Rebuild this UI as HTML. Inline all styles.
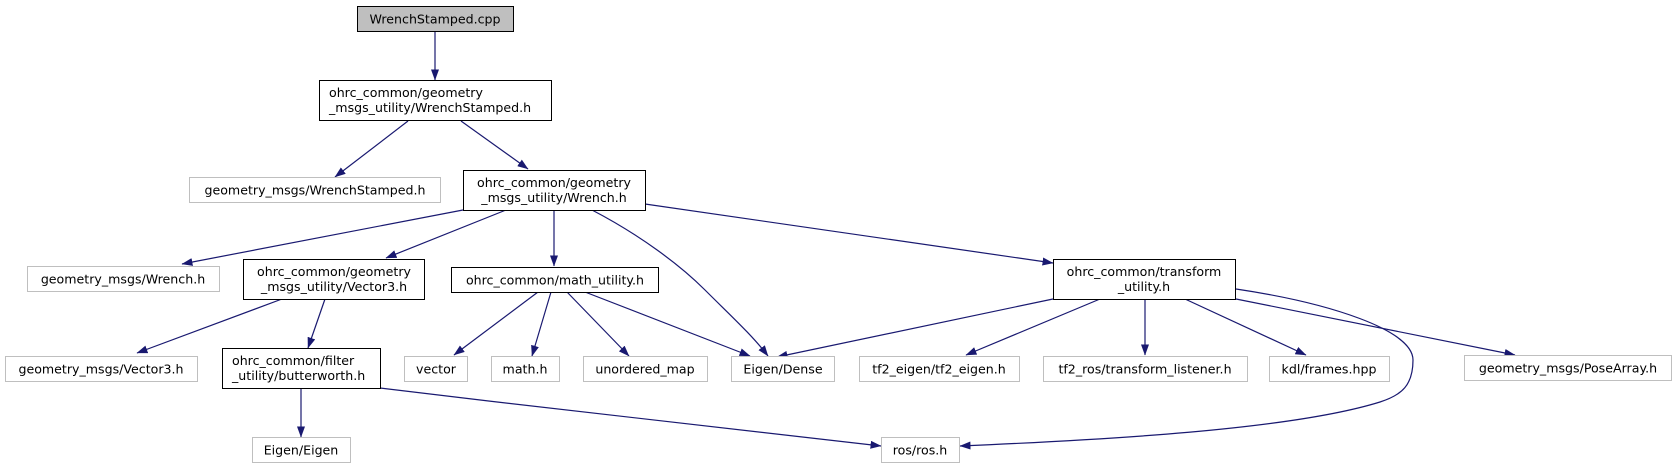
<!DOCTYPE html>
<html><head><meta charset="utf-8"><style>
html,body{margin:0;padding:0;background:#fff;}
svg text{font-family:"DejaVu Sans","Liberation Sans",sans-serif;font-size:12.6px;fill:#000;}
</style></head><body>
<svg width="1677" height="469" viewBox="0 0 1677 469" xmlns="http://www.w3.org/2000/svg">
<defs><marker id="a" markerWidth="11" markerHeight="8" refX="10.5" refY="4" orient="auto" markerUnits="userSpaceOnUse"><path d="M0,0 L11,4 L0,8 z" fill="#191970"/></marker></defs>
<g fill="none" stroke="#191970" stroke-width="1.2" marker-end="url(#a)">
<path d="M435,32 L435,80"/>
<path d="M408,121 L335,177"/>
<path d="M461,121 L528,169"/>
<path d="M463,210 L182,264"/>
<path d="M506,210 L386,258"/>
<path d="M554,210 L554,266"/>
<path d="M592,210 C640,235 680,265 705,290 C730,315 752,335 768,356"/>
<path d="M645,204 L1053,263"/>
<path d="M282,299 L137,353"/>
<path d="M325,299 L308,348"/>
<path d="M301,389 L301,437"/>
<path d="M538,292 L454,355"/>
<path d="M551,292 L532,356"/>
<path d="M567,292 L629,356"/>
<path d="M585,292 L750,356"/>
<path d="M1053,299 L777,357"/>
<path d="M1100,299 L966,355"/>
<path d="M1145,299 L1145,355"/>
<path d="M1185,299 L1306,355"/>
<path d="M1236,299 L1515,355"/>
<path d="M1236,289 C1330,303 1413,330 1413,360 C1413,385 1402,395 1380,402 C1290,430 1100,440 960,446"/>
<path d="M380,388 C560,410 760,432 881,446"/>
</g>
<g stroke-width="1">
<rect x="357.5" y="6.5" width="156" height="25" fill="#bfbfbf" stroke="#000"/>
<rect x="319.5" y="80.5" width="232" height="40" fill="#fff" stroke="#000"/>
<rect x="189.5" y="177.5" width="251" height="25" fill="#fff" stroke="#bfbfbf"/>
<rect x="463.5" y="170.5" width="182" height="40" fill="#fff" stroke="#000"/>
<rect x="27.5" y="266.5" width="192" height="25" fill="#fff" stroke="#bfbfbf"/>
<rect x="243.5" y="259.5" width="181" height="40" fill="#fff" stroke="#000"/>
<rect x="451.5" y="267.5" width="207" height="25" fill="#fff" stroke="#000"/>
<rect x="1053.5" y="259.5" width="182" height="40" fill="#fff" stroke="#000"/>
<rect x="5.5" y="356.5" width="192" height="25" fill="#fff" stroke="#bfbfbf"/>
<rect x="222.5" y="348.5" width="158" height="40" fill="#fff" stroke="#000"/>
<rect x="404.5" y="356.5" width="63" height="25" fill="#fff" stroke="#bfbfbf"/>
<rect x="491.5" y="356.5" width="68" height="25" fill="#fff" stroke="#bfbfbf"/>
<rect x="583.5" y="356.5" width="124" height="25" fill="#fff" stroke="#bfbfbf"/>
<rect x="731.5" y="356.5" width="103" height="25" fill="#fff" stroke="#bfbfbf"/>
<rect x="859.5" y="356.5" width="160" height="25" fill="#fff" stroke="#bfbfbf"/>
<rect x="1043.5" y="356.5" width="204" height="25" fill="#fff" stroke="#bfbfbf"/>
<rect x="1269.5" y="356.5" width="120" height="25" fill="#fff" stroke="#bfbfbf"/>
<rect x="1464.5" y="355.5" width="207" height="25" fill="#fff" stroke="#bfbfbf"/>
<rect x="252.5" y="437.5" width="98" height="25" fill="#fff" stroke="#bfbfbf"/>
<rect x="881.5" y="437.5" width="78" height="25" fill="#fff" stroke="#bfbfbf"/>
</g>
<g text-anchor="middle">
<text x="435" y="23.5">WrenchStamped.cpp</text>
<text x="315" y="194.5">geometry_msgs/WrenchStamped.h</text>
<text x="123" y="283.5">geometry_msgs/Wrench.h</text>
<text x="555" y="284.5">ohrc_common/math_utility.h</text>
<text x="101" y="373.5">geometry_msgs/Vector3.h</text>
<text x="436" y="373.5">vector</text>
<text x="525" y="373.5">math.h</text>
<text x="645" y="373.5">unordered_map</text>
<text x="783" y="373.5">Eigen/Dense</text>
<text x="939" y="373.5">tf2_eigen/tf2_eigen.h</text>
<text x="1145" y="373.5">tf2_ros/transform_listener.h</text>
<text x="1329" y="373.5">kdl/frames.hpp</text>
<text x="1568" y="372.5">geometry_msgs/PoseArray.h</text>
<text x="301" y="454.5">Eigen/Eigen</text>
<text x="920" y="454.5">ros/ros.h</text>
</g>
<text x="329" y="97">ohrc_common/geometry</text>
<text x="329" y="112">_msgs_utility/WrenchStamped.h</text>
<text x="554" y="187" text-anchor="middle">ohrc_common/geometry</text>
<text x="554" y="202" text-anchor="middle">_msgs_utility/Wrench.h</text>
<text x="334" y="276" text-anchor="middle">ohrc_common/geometry</text>
<text x="334" y="291" text-anchor="middle">_msgs_utility/Vector3.h</text>
<text x="1144" y="276" text-anchor="middle">ohrc_common/transform</text>
<text x="1144" y="291" text-anchor="middle">_utility.h</text>
<text x="232" y="365">ohrc_common/filter</text>
<text x="232" y="380">_utility/butterworth.h</text>
</svg>
</body></html>
